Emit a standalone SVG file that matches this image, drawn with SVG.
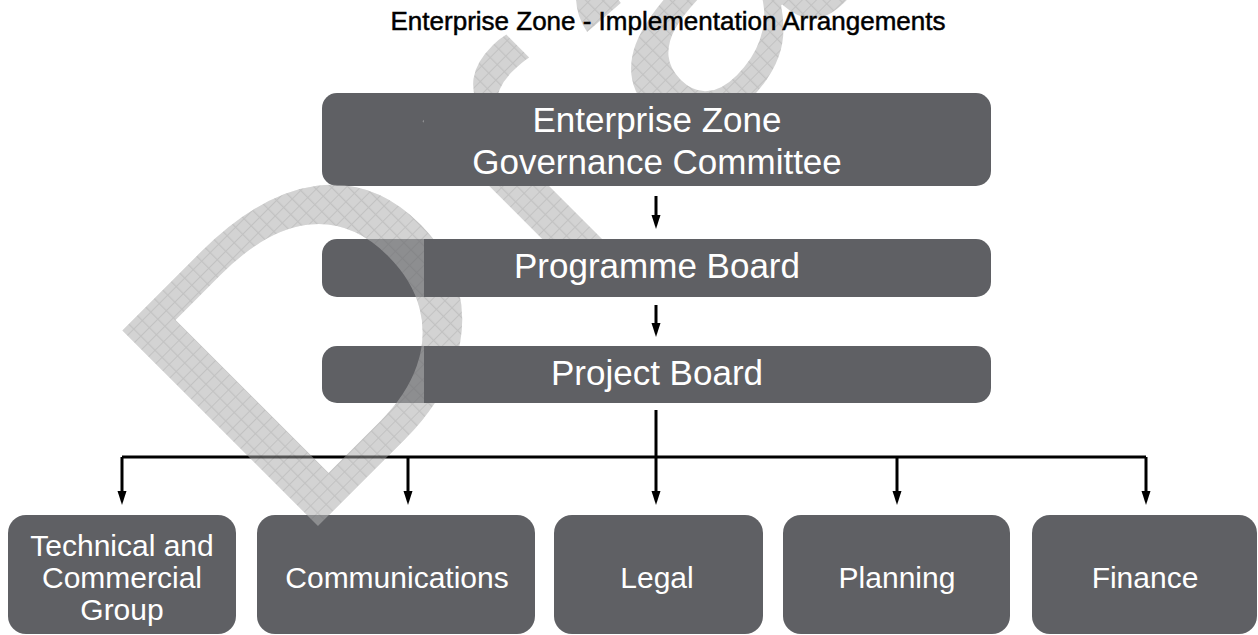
<svg xmlns="http://www.w3.org/2000/svg" width="1258" height="635" viewBox="0 0 1258 635">
  <defs>
    <pattern id="grid" width="10" height="10" patternUnits="userSpaceOnUse">
      <rect width="10" height="10" fill="#d3d3d3"/>
      <path d="M0,0.5 H10 M0.5,0 V10" stroke="#c2c2c2" stroke-width="1" fill="none"/>
    </pattern>
    <clipPath id="leftClip"><rect x="0" y="0" width="424" height="635"/></clipPath>
    <marker id="arrow" markerUnits="userSpaceOnUse" markerWidth="14" markerHeight="10" viewBox="0 0 14 10" refX="4" refY="5" orient="auto">
      <path d="M0,0.5 L14,5 L0,9.5 z" fill="#000"/>
    </marker>
    <style>
      .box { fill: #5f6064; }
      .lbl { font-family: "Liberation Sans", Arial, sans-serif; fill: #ffffff; text-anchor: middle; }
      .big { font-size: 35px; }
      .small { font-size: 30px; }
      .title { font-family: "Liberation Sans", Arial, sans-serif; font-size: 26px; fill: #000; stroke: #000; stroke-width: 0.5; text-anchor: middle; }
      .conn { stroke: #000; stroke-width: 3; fill: none; }
      .wm { font-family: "Liberation Sans", Arial, sans-serif; font-size: 402px; letter-spacing: 16px; }
    </style>
  </defs>
  <rect width="1258" height="635" fill="#ffffff"/>
  <g id="watermark">
    <text class="wm" fill="url(#grid)" transform="translate(290,554) rotate(-45) scale(1.2,1)">Draft</text>
  </g>
  <text class="title" x="668" y="30">Enterprise Zone - Implementation Arrangements</text>
  <g id="governance">
    <rect class="box" x="322" y="93" width="669" height="93" rx="15"/>
    <text class="lbl big" x="657" y="132">Enterprise Zone</text>
    <text class="lbl big" x="657" y="174">Governance Committee</text>
  </g>
  <g id="programme">
    <rect class="box" x="322" y="239" width="669" height="58" rx="15"/>
    <text class="lbl big" x="657" y="278">Programme Board</text>
  </g>
  <g id="project">
    <rect class="box" x="322" y="346" width="669" height="57" rx="15"/>
    <text class="lbl big" x="657" y="385">Project Board</text>
  </g>
  <g id="technical">
    <rect class="box" x="8" y="515" width="228" height="119" rx="18"/>
    <text class="lbl small" x="122" y="556">Technical and</text>
    <text class="lbl small" x="122" y="588">Commercial</text>
    <text class="lbl small" x="122" y="620">Group</text>
  </g>
  <g id="communications">
    <rect class="box" x="257" y="515" width="278" height="119" rx="18"/>
    <text class="lbl small" x="397" y="588">Communications</text>
  </g>
  <g id="legal">
    <rect class="box" x="554" y="515" width="209" height="119" rx="18"/>
    <text class="lbl small" x="657" y="588">Legal</text>
  </g>
  <g id="planning">
    <rect class="box" x="783" y="515" width="227" height="119" rx="18"/>
    <text class="lbl small" x="897" y="588">Planning</text>
  </g>
  <g id="finance">
    <rect class="box" x="1032" y="515" width="225" height="119" rx="18"/>
    <text class="lbl small" x="1145" y="588">Finance</text>
  </g>
  <g id="connectors">
    <line class="conn" x1="656" y1="196" x2="656" y2="219" marker-end="url(#arrow)"/>
    <line class="conn" x1="656" y1="305" x2="656" y2="327" marker-end="url(#arrow)"/>
    <line class="conn" x1="656" y1="410" x2="656" y2="495" marker-end="url(#arrow)"/>
    <path class="conn" d="M122,457 H1146"/>
    <line class="conn" x1="122" y1="457" x2="122" y2="495" marker-end="url(#arrow)"/>
    <line class="conn" x1="408" y1="457" x2="408" y2="495" marker-end="url(#arrow)"/>
    <line class="conn" x1="897" y1="457" x2="897" y2="495" marker-end="url(#arrow)"/>
    <line class="conn" x1="1146" y1="457" x2="1146" y2="495" marker-end="url(#arrow)"/>
  </g>
  <g id="watermark-overlay" clip-path="url(#leftClip)" opacity="0.4">
    <text class="wm" fill="url(#grid)" transform="translate(290,554) rotate(-45) scale(1.2,1)">Draft</text>
  </g>
</svg>
